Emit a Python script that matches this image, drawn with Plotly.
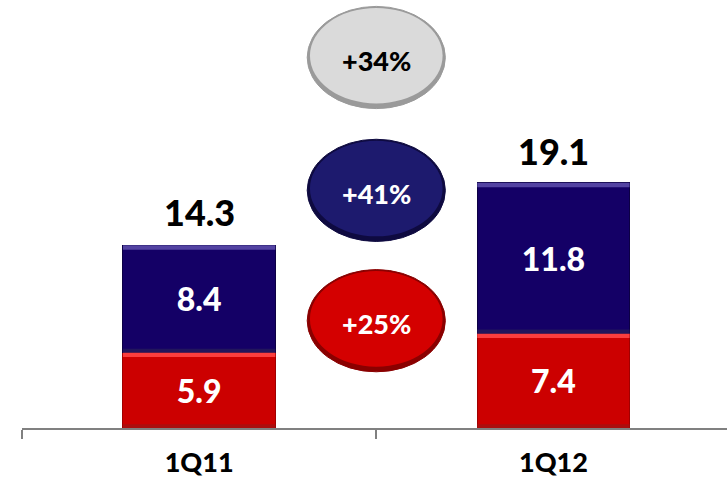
import plotly.graph_objects as go

# Quarterly figures, stacked by segment
quarters = ["1Q11", "1Q12"]
segment_red = [5.9, 7.4]
segment_blue = [8.4, 11.8]
totals = [14.3, 19.1]

# Year-over-year growth bubbles (top to bottom: total, blue, red)
growth_labels = ["+34%", "+41%", "+25%"]
growth_levels = [29.0, 18.6, 8.4]

RED = "#cc0000"
BLUE = "#140066"
FONT = "Lato"
WEIGHT = 900
BAR_W = 0.43

fig = go.Figure()

fig.add_trace(go.Bar(
    x=quarters, y=segment_red, width=BAR_W,
    marker=dict(color=RED, line=dict(color="#a00000", width=1)),
    text=[f"{v:.1f}" for v in segment_red],
    textposition="inside", insidetextanchor="middle",
    textfont=dict(family=FONT, size=32, color="white", weight=WEIGHT),
    hoverinfo="skip", showlegend=False,
))
fig.add_trace(go.Bar(
    x=quarters, y=segment_blue, width=BAR_W,
    marker=dict(color=BLUE, line=dict(color="#0c0044", width=1)),
    text=[f"{v:.1f}" for v in segment_blue],
    textposition="inside", insidetextanchor="middle",
    textfont=dict(family=FONT, size=32, color="white", weight=WEIGHT),
    hoverinfo="skip", showlegend=False,
))

# Bevel: light strip along the top, darker strip along the bottom of each segment
shapes = []
for i in range(len(quarters)):
    segs = ((0, segment_red[i], "#ff4545", "#a31212"),
            (segment_red[i], segment_blue[i], "#5a4aa8", "#241a5a"))
    for base, val, hi, lo in segs:
        top = base + val
        shapes.append(dict(type="rect", xref="x", yref="y", layer="above",
                           x0=i - BAR_W / 2, x1=i + BAR_W / 2, y0=top - 0.35, y1=top,
                           fillcolor=hi, line=dict(width=0), opacity=0.9))
        shapes.append(dict(type="rect", xref="x", yref="y", layer="above",
                           x0=i - BAR_W / 2, x1=i + BAR_W / 2, y0=base, y1=base + 0.3,
                           fillcolor=lo, line=dict(width=0), opacity=0.8))

# Totals above the stacks
for i, t in enumerate(totals):
    fig.add_annotation(x=quarters[i], y=t, yshift=33, text=f"{t:.1f}",
                       showarrow=False,
                       font=dict(family=FONT, size=36, color="black", weight=WEIGHT))

# Growth ellipses between the two bars
bubble_styles = [("#dadada", "#9a9a9a", "black"),
                 ("#1d1a6e", "#0e0a40", "white"),
                 ("#d40000", "#8a0000", "white")]
half_w, half_h = 0.195, 4.0
for label, lvl, (fill, edge, txt) in zip(growth_labels, growth_levels, bubble_styles):
    shapes.append(dict(type="circle", xref="x", yref="y", layer="above",
                       x0=0.5 - half_w, x1=0.5 + half_w, y0=lvl - half_h, y1=lvl + half_h,
                       fillcolor=edge, line=dict(color=edge, width=1)))
    shapes.append(dict(type="circle", xref="x", yref="y", layer="above",
                       x0=0.5 - half_w * 0.96, x1=0.5 + half_w * 0.96,
                       y0=lvl - half_h * 0.9, y1=lvl + half_h * 0.97,
                       fillcolor=fill, line=dict(width=0)))
    fig.add_annotation(x=0.5, y=lvl, yshift=-3, text=label, showarrow=False,
                       font=dict(family=FONT, size=27, color=txt, weight=WEIGHT))

fig.update_layout(
    barmode="stack",
    width=727, height=483,
    margin=dict(l=22, r=0, t=0, b=55),
    paper_bgcolor="white", plot_bgcolor="white",
    shapes=shapes,
    xaxis=dict(
        type="category", range=[-0.5, 1.49],
        showline=True, linecolor="#808080", linewidth=2,
        ticks="outside", tickson="boundaries", ticklen=9, tickwidth=2, tickcolor="#808080",
        tickfont=dict(family=FONT, size=27, color="black", weight=WEIGHT),
        ticklabelstandoff=10,
        showgrid=False, zeroline=False, fixedrange=True,
    ),
    yaxis=dict(range=[0, 33.5], visible=False, showgrid=False, zeroline=False),
    bargap=0.57,
)

fig.write_html("out.html")
